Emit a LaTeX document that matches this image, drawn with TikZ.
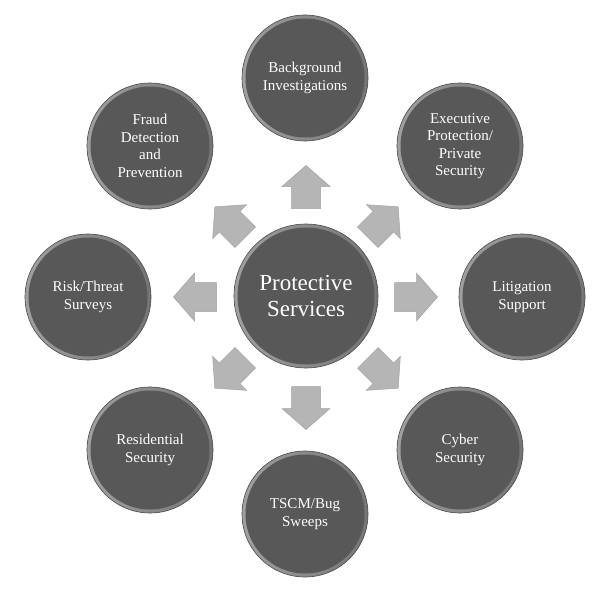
\documentclass[tikz,border=0pt]{standalone}
\usepackage{fontspec}
\setmainfont{Liberation Serif}
\definecolor{basec}{HTML}{585858}
\definecolor{rimlight}{HTML}{A0A0A0}
\definecolor{rimdark}{HTML}{747474}
\definecolor{edgec}{HTML}{4A4A4A}
\definecolor{arrowc}{HTML}{B5B5B5}
\definecolor{arrowedge}{HTML}{A3A3A3}
\tikzset{
  bevel/.style={circle, inner sep=0pt, minimum size=#1, align=center, text=white,
    draw=edgec, line width=0.6pt, left color=rimlight, right color=rimdark,
    path picture={\fill[basec] (path picture bounding box.center) circle ({#1/2-3.5pt});}},
  outer/.style={bevel=126pt, font=\fontsize{15}{17.5}\selectfont},
  hub/.style={bevel=144pt, font=\fontsize{23}{26}\selectfont},
  arrowstyle/.style={fill=arrowc, draw=arrowedge, line width=0.5pt, line join=miter},
}
\newcommand\blockarrow[3]{%
  \filldraw[arrowstyle, shift={(#1,#2)}, rotate=#3]
    (-21.5,-14.5) -- (0.5,-14.5) -- (0.5,-24) -- (21.5,0) -- (0.5,24) -- (0.5,14.5) -- (-21.5,14.5) -- cycle;}
\begin{document}
\begin{tikzpicture}[x=1pt,y=-1pt]
  \fill[white] (0,0) rectangle (600,602);
  \useasboundingbox (0,0) rectangle (600,602);
  % arrows
  \blockarrow{306}{187}{90}
  \blockarrow{383}{222}{45}
  \blockarrow{416}{297}{0}
  \blockarrow{383}{373}{-45}
  \blockarrow{306}{408}{-90}
  \blockarrow{230}{373}{-135}
  \blockarrow{195}{297}{180}
  \blockarrow{230}{222}{135}
  % circles
  \node[hub] (hub) at (306,296) {Protective\\Services};
  \node[outer] (bg) at (305,78) {Background\\Investigations};
  \node[outer] (ex) at (460,146) {Executive\\Protection/\\Private\\Security};
  \node[outer] (lit) at (522,297) {Litigation\\Support};
  \node[outer] (cy) at (460,450) {Cyber\\Security};
  \node[outer] (ts) at (305,514) {TSCM/Bug\\Sweeps};
  \node[outer] (res) at (150,450) {Residential\\Security};
  \node[outer] (risk) at (88,297) {Risk/Threat\\Surveys};
  \node[outer] (fr) at (150,146) {Fraud\\Detection\\and\\Prevention};
\end{tikzpicture}
\end{document}
